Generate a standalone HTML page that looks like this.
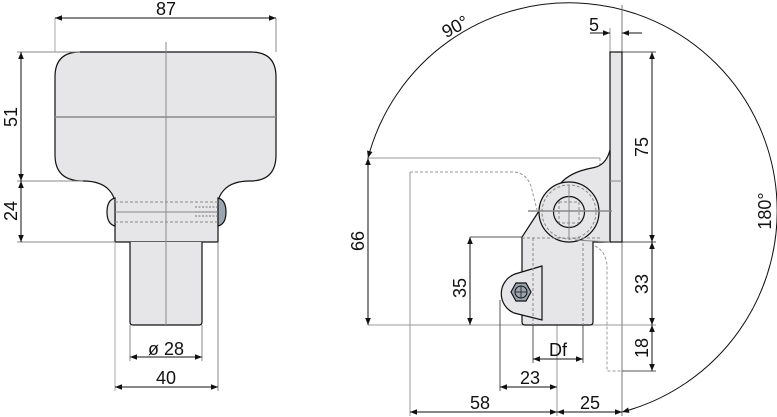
<!DOCTYPE html>
<html><head><style>
html,body{margin:0;padding:0;background:#fff;}
svg{display:block;}
text{font-family:"Liberation Sans",sans-serif;font-size:18px;fill:#111;}
</style></head><body>
<svg width="777" height="417" viewBox="0 0 777 417" xmlns="http://www.w3.org/2000/svg">
<defs>
<marker id="a" viewBox="0 0 10 10" refX="10" refY="5" markerWidth="9" markerHeight="7" orient="auto-start-reverse" markerUnits="userSpaceOnUse"><path d="M0,1 L10,5 L0,9 z" fill="#111"/></marker>
</defs>
<!-- LEFT FIGURE -->
<g stroke="#111" stroke-width="1.2">
<path d="M80,52 H251 Q276,52 276,77 V155 Q276,181 250,181 Q232,181 224,190 Q218,196 218,205 V242 H115 V205 Q115,196 109,190 Q101,181 83,181 Q55,181 55,155 V77 Q55,52 80,52 Z" fill="#e6e6e8"/>
<path d="M130,242 V322 Q130,325 133,325 H199 Q202,325 202,322 V242" fill="#e6e6e8"/>
<path d="M115,198 Q107,200 107,212 Q107,224 115,226 Z" fill="#e6e6e8"/>
<path d="M218,198 Q226,200 226,212 Q226,224 218,226 Z" fill="#9aa6b0"/>
</g>
<g stroke="#888" stroke-width="1" fill="none">
<line x1="166" y1="42" x2="166" y2="325"/>
<line x1="55" y1="117" x2="276" y2="117" stroke-width="1.5"/>
<line x1="115" y1="212" x2="218" y2="212"/>
<line x1="115" y1="202" x2="218" y2="202" stroke-dasharray="3,2"/>
<line x1="115" y1="222" x2="218" y2="222" stroke-dasharray="3,2"/>
<path d="M195,207 H218 M195,212 H218 M195,216 H218" stroke-dasharray="2,1.5" stroke="#777"/>
<line x1="55" y1="18" x2="55" y2="52" stroke="#aaa"/>
<line x1="276" y1="18" x2="276" y2="52"/>
<line x1="17" y1="52" x2="80" y2="52"/>
<line x1="17" y1="181" x2="83" y2="181"/>
<line x1="17" y1="242" x2="115" y2="242"/>
<line x1="115" y1="242" x2="115" y2="391" stroke="#aaa"/>
<line x1="218" y1="242" x2="218" y2="391"/>
<line x1="130" y1="325" x2="130" y2="361"/>
<line x1="202" y1="325" x2="202" y2="361"/>
</g>
<g stroke="#111" stroke-width="1" marker-start="url(#a)" marker-end="url(#a)">
<line x1="55" y1="18" x2="276" y2="18"/>
<line x1="21" y1="52" x2="21" y2="181"/>
<line x1="21" y1="181" x2="21" y2="242"/>
<line x1="130" y1="357" x2="202" y2="357"/>
<line x1="115" y1="387" x2="218" y2="387"/>
</g>
<text x="166" y="15" text-anchor="middle">87</text>
<text transform="translate(17,117) rotate(-90)" text-anchor="middle">51</text>
<text transform="translate(17,211) rotate(-90)" text-anchor="middle">24</text>
<text x="166" y="355" text-anchor="middle">ø 28</text>
<text x="166" y="384" text-anchor="middle">40</text>

<!-- RIGHT FIGURE -->
<path d="M368,158 A208,208 0 1 1 622,412" fill="none" stroke="#111" stroke-width="1" marker-start="url(#a)" marker-end="url(#a)"/>
<g stroke="#999" stroke-width="1" fill="none">
<line x1="368" y1="158" x2="600" y2="158"/>
<path d="M410,172 H512 Q528,172 532,190 L537,210" stroke-dasharray="3,2"/>
<line x1="600" y1="158" x2="600" y2="240" stroke-dasharray="3,2"/>
<line x1="410" y1="172" x2="410" y2="416"/>
<path d="M595,246 Q607,252 607,268 V371 H622" stroke-dasharray="3,2"/>
<line x1="557" y1="228" x2="557" y2="416"/>
<line x1="622" y1="5" x2="622" y2="416" stroke="#777"/>
<line x1="610" y1="28" x2="610" y2="52"/>
<line x1="368" y1="325" x2="656" y2="325"/>
<line x1="470" y1="237" x2="522" y2="237" stroke="#555"/>
<line x1="622" y1="52" x2="656" y2="52" stroke="#555"/>
<line x1="622" y1="242" x2="656" y2="242" stroke="#555"/>
<line x1="622" y1="371" x2="656" y2="371" stroke="#555"/>
<line x1="500" y1="300" x2="500" y2="391" stroke="#555"/>
<line x1="533" y1="325" x2="533" y2="363" stroke="#555"/>
<line x1="583" y1="250" x2="583" y2="363" stroke="#555"/>
</g>
<g stroke="#111" stroke-width="1.2">
<rect x="610" y="52" width="12" height="190" fill="#e6e6e8"/>
<path d="M610,150 Q606,166 592,168 Q570,172 560,184 A30,30 0 0 0 539,211 L522,237 V322 Q522,325 525,325 H590 Q593,325 593,322 V242 H610 V150 Z" fill="#e6e6e8"/>
<circle cx="569" cy="212" r="30" fill="#e6e6e8"/>
<circle cx="569" cy="212" r="15.5" fill="#e6e6e8"/>
<path d="M542,266 L515,274 A21,21 0 0 0 514,313 L542,320 Z" fill="#e6e6e8"/>
<polygon points="511,292 516,283 526,283 531,292 526,301 516,301" fill="#9aa6b0"/>
<circle cx="521" cy="292" r="6" fill="none" stroke-width="1"/>
</g>
<g stroke="#888" stroke-width="1" fill="none">
<line x1="610" y1="181" x2="622" y2="181"/>
<circle cx="569" cy="212" r="27" stroke-dasharray="3,2"/>
<rect x="559" y="202" width="20" height="21" stroke-dasharray="3,2"/>
<line x1="528" y1="211" x2="612" y2="211" stroke-width="1.5"/>
<line x1="569" y1="185" x2="569" y2="240"/>
<line x1="515" y1="292" x2="527" y2="292" stroke="#333"/>
<line x1="521" y1="286" x2="521" y2="298" stroke="#333"/>
<line x1="522" y1="238" x2="600" y2="238" stroke-dasharray="3,2"/>
<line x1="533" y1="238" x2="533" y2="325" stroke-dasharray="3,2"/>
<line x1="583" y1="238" x2="583" y2="325" stroke-dasharray="3,2"/>
<path d="M575,240 L610,242"/>
</g>
<g stroke="#111" stroke-width="1" marker-end="url(#a)">
<line x1="590" y1="33" x2="610" y2="33"/>
<line x1="642" y1="33" x2="622" y2="33"/>
</g>
<g stroke="#111" stroke-width="1" marker-start="url(#a)" marker-end="url(#a)">
<line x1="652" y1="52" x2="652" y2="242"/>
<line x1="652" y1="242" x2="652" y2="325"/>
<line x1="652" y1="325" x2="652" y2="371"/>
<line x1="368" y1="158" x2="368" y2="325"/>
<line x1="470" y1="237" x2="470" y2="325"/>
<line x1="533" y1="359" x2="583" y2="359"/>
<line x1="500" y1="387" x2="557" y2="387"/>
<line x1="410" y1="412" x2="557" y2="412"/>
<line x1="557" y1="412" x2="622" y2="412"/>
</g>
<text x="594" y="31" text-anchor="middle">5</text>
<text transform="translate(648,147) rotate(-90)" text-anchor="middle">75</text>
<text transform="translate(648,284) rotate(-90)" text-anchor="middle">33</text>
<text transform="translate(648,348) rotate(-90)" text-anchor="middle">18</text>
<text transform="translate(364,241) rotate(-90)" text-anchor="middle">66</text>
<text transform="translate(466,288) rotate(-90)" text-anchor="middle">35</text>
<text x="558" y="356" text-anchor="middle">Df</text>
<text x="530" y="384" text-anchor="middle">23</text>
<text x="480" y="409" text-anchor="middle">58</text>
<text x="590" y="409" text-anchor="middle">25</text>
<text transform="translate(771,211) rotate(-90)" text-anchor="middle">180°</text>
<text transform="translate(458,32) rotate(-28)" text-anchor="middle">90°</text>
</svg>
</body></html>
